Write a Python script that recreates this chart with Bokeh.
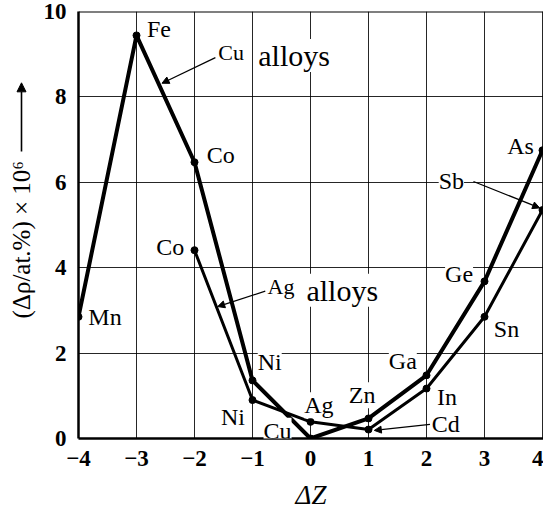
import math
from bokeh.plotting import figure
from bokeh.layouts import row, column
from bokeh.models import Range1d, Label, Arrow, NormalHead, Span, FixedTicker
from bokeh.core.properties import value
from bokeh.embed import file_html
from bokeh.resources import INLINE

# ---- data ----
cu_dz = [-4, -3, -2, -1, 0, 1, 2, 3, 4]
cu_solutes = ["Mn", "Fe", "Co", "Ni", "Cu", "Zn", "Ga", "Ge", "As"]
cu_drho = [2.85, 9.44, 6.47, 1.36, 0.0, 0.47, 1.48, 3.68, 6.75]

ag_dz = [-2, -1, 0, 1, 2, 3, 4]
ag_solutes = ["Co", "Ni", "Ag", "Cd", "In", "Sn", "Sb"]
ag_drho = [4.41, 0.90, 0.39, 0.21, 1.17, 2.85, 5.35]

x_ticks = [-4, -3, -2, -1, 0, 1, 2, 3, 4]
x_tick_labels = ["\u22124", "\u22123", "\u22122", "\u22121", "0", "1", "2", "3", "4"]
y_ticks = [0, 2, 4, 6, 8, 10]
y_tick_labels = ["0", "2", "4", "6", "8", "10"]

y_title = "(\u0394\u03c1/at.%) \u00d7 10\u2076"
x_title = "\u0394Z"

SERIF = "Liberation Serif"
W = 543
H_TOP = 479
H_BOT = 30
LEFT_W = 40


def strip(width, height):
    f = figure(width=width, height=height, x_range=Range1d(0, width), y_range=Range1d(0, height),
               x_axis_location=None, y_axis_location=None,
               output_backend="svg", toolbar_location=None,
               min_border=0, min_border_left=0, min_border_right=0,
               min_border_top=0, min_border_bottom=0)
    f.outline_line_color = None
    f.xgrid.visible = False
    f.ygrid.visible = False
    return f


# ---- left strip: vertical axis title and its arrow ----
left = strip(LEFT_W, H_TOP)
left.text(x=[21], y=[H_TOP - 256], text=[y_title], angle=math.pi / 2,
          text_align="center", text_baseline="middle", text_color="black",
          text_font=value(SERIF), text_font_size="25px")
left.add_layout(Arrow(x_start=21, y_start=H_TOP - 157, x_end=21, y_end=H_TOP - 80,
                      line_color="black", line_width=1.6,
                      end=NormalHead(size=9, fill_color="black", line_color="black")))

# ---- bottom strip: horizontal axis title ----
bottom = strip(W, H_BOT)
bottom.text(x=[310.5], y=[H_BOT - 15], text=[x_title],
            text_align="center", text_baseline="middle", text_color="black",
            text_font=value(SERIF), text_font_size="27px", text_font_style="italic")

# ---- main plot ----
p = figure(width=W - LEFT_W, height=H_TOP,
           x_range=Range1d(-4, 4.017), y_range=Range1d(0, 10),
           output_backend="svg", toolbar_location=None,
           min_border_left=78 - LEFT_W, min_border_right=0,
           min_border_top=11, min_border_bottom=H_TOP - 438)
p.outline_line_color = None
p.background_fill_color = "white"
p.border_fill_color = "white"

p.xgrid.ticker = FixedTicker(ticks=x_ticks[1:])
p.ygrid.ticker = FixedTicker(ticks=y_ticks[1:])
for g in (p.xgrid, p.ygrid):
    g.grid_line_color = "black"
    g.grid_line_width = 1
    g.grid_line_alpha = 0.85

p.xaxis.ticker = FixedTicker(ticks=x_ticks)
p.xaxis.major_label_overrides = {t: l for t, l in zip(x_ticks, x_tick_labels)}
p.yaxis.ticker = FixedTicker(ticks=y_ticks)
p.yaxis.major_label_overrides = {t: l for t, l in zip(y_ticks, y_tick_labels)}
for ax in (p.xaxis, p.yaxis):
    ax.axis_line_width = 2.5
    ax.axis_line_color = "black"
    ax.major_tick_line_color = None
    ax.minor_tick_line_color = None
    ax.major_label_text_font = SERIF
    ax.major_label_text_font_size = "23px"
    ax.major_label_text_font_style = "bold"
    ax.major_label_text_color = "black"
p.xaxis.major_label_standoff = 6
p.yaxis.major_label_standoff = 6

p.add_layout(Span(location=10, dimension="width", line_color="black", line_width=2))

p.line(cu_dz, cu_drho, line_color="black", line_width=4)
p.scatter(cu_dz, cu_drho, size=7, color="black")
p.line(ag_dz, ag_drho, line_color="black", line_width=3)
p.scatter(ag_dz, ag_drho, size=7, color="black")


def lab(text, x, y, size="24px", align="left", bg=True):
    p.add_layout(Label(x=x, y=y, text=text, text_font=SERIF, text_font_size=size,
                       text_align=align, text_baseline="middle", text_color="black",
                       background_fill_color="white" if bg else None))


lab("Fe", -2.82, 9.58)
lab("Co", -1.79, 6.63)
lab("Mn", -3.83, 2.85)
lab("Ni", -0.91, 1.79)
lab("Cu", -0.81, 0.18)
lab("Zn", 0.66, 1.01)
lab("Ga", 1.35, 1.82)
lab("Ge", 2.32, 3.86)
lab("As", 3.39, 6.86)
lab("Co", -2.66, 4.48)
lab("Ni", -1.13, 0.51, align="right")
lab("Ag", -0.11, 0.78)
lab("Cd", 2.09, 0.35)
lab("In", 2.18, 0.97)
lab("Sn", 3.16, 2.57)
lab("Sb", 2.21, 6.04)

lab("Cu", -1.59, 9.04, size="22px")
lab("alloys", -0.9, 8.97, size="30px")
lab("Ag", -0.74, 3.55, size="22px")
lab("alloys", -0.07, 3.47, size="30px")


def leader(x0, y0, x1, y1):
    p.add_layout(Arrow(x_start=x0, y_start=y0, x_end=x1, y_end=y1,
                       line_color="black", line_width=1.2,
                       end=NormalHead(size=7, fill_color="black", line_color="black")))


leader(-1.64, 8.92, -2.56, 8.32)
leader(-0.78, 3.45, -1.6, 3.09)
leader(2.81, 6.02, 3.95, 5.40)
leader(2.06, 0.33, 1.1, 0.19)

open("out.html", "w").write(file_html(column(row(left, p), bottom), INLINE))
